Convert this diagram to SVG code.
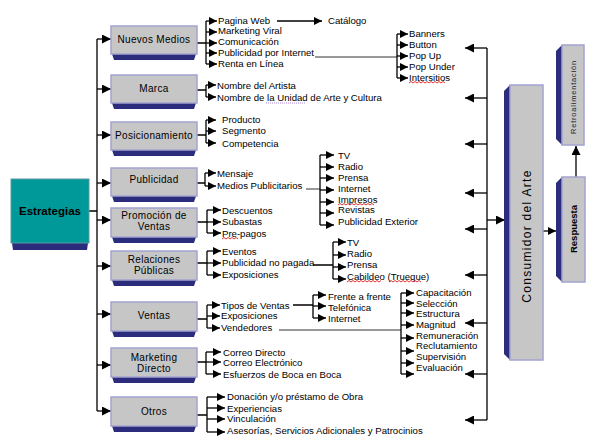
<svg xmlns="http://www.w3.org/2000/svg" width="597" height="446" viewBox="0 0 597 446">
<style>
.box{fill:#c6c6c6;stroke:#a3a3cf;stroke-width:1.5}
.sh{fill:#2c2c7c}
.bl{font-family:"Liberation Sans",Arial,sans-serif;font-size:10px;fill:#000;text-anchor:middle;letter-spacing:0.3px}
.it{font-family:"Liberation Sans",Arial,sans-serif;font-size:9.6px;fill:#000}
.ln{fill:none;stroke:#000;stroke-width:1.3}
.gl{fill:none;stroke:#333;stroke-width:1}
.sq{fill:none;stroke:#e00000;stroke-width:0.8}
</style>
<defs>
<marker id="ah" markerUnits="userSpaceOnUse" markerWidth="10" markerHeight="9" refX="9" refY="4.5" orient="auto"><path d="M0,0 L9,4.5 L0,9 z" fill="#000"/></marker>
<marker id="as" markerUnits="userSpaceOnUse" markerWidth="8" markerHeight="8" refX="8" refY="4" orient="auto"><path d="M0,0 L8,4 L0,8 z" fill="#000"/></marker>
</defs>
<rect width="597" height="446" fill="#fff"/>

<g id="connectors">
<!-- main trunk -->
<path class="ln" d="M89,211 H97 M97,39 V411"/>
<path class="ln" marker-end="url(#ah)" d="M97,39 H111"/>
<path class="ln" marker-end="url(#ah)" d="M97,89 H111"/>
<path class="ln" marker-end="url(#ah)" d="M97,135 H111"/>
<path class="ln" marker-end="url(#ah)" d="M97,183 H111"/>
<path class="ln" marker-end="url(#ah)" d="M97,220 H111"/>
<path class="ln" marker-end="url(#ah)" d="M97,266 H111"/>
<path class="ln" marker-end="url(#ah)" d="M97,314 H111"/>
<path class="ln" marker-end="url(#ah)" d="M97,365 H111"/>
<path class="ln" marker-end="url(#ah)" d="M97,411 H111"/>

<!-- Nuevos Medios -->
<path class="ln" d="M197,43 H206 M206,21 V64"/>
<path class="ln" marker-end="url(#as)" d="M206,21 H217"/>
<path class="ln" marker-end="url(#as)" d="M206,32 H217"/>
<path class="ln" marker-end="url(#as)" d="M206,43 H217"/>
<path class="ln" marker-end="url(#as)" d="M206,53 H217"/>
<path class="ln" marker-end="url(#as)" d="M206,64 H217"/>
<path class="ln" marker-end="url(#as)" d="M277,21 H322"/>
<path class="gl" d="M315,57 H397"/>
<path class="ln" d="M397,34 V78"/>
<path class="ln" marker-end="url(#as)" d="M397,34 H408"/>
<path class="ln" marker-end="url(#as)" d="M397,45 H408"/>
<path class="ln" marker-end="url(#as)" d="M397,56 H408"/>
<path class="ln" marker-end="url(#as)" d="M397,67 H408"/>
<path class="ln" marker-end="url(#as)" d="M397,78 H408"/>

<!-- Marca -->
<path class="ln" d="M197,90 H206 M206,85 V97"/>
<path class="ln" marker-end="url(#as)" d="M206,85 H216"/>
<path class="ln" marker-end="url(#as)" d="M206,97 H216"/>

<!-- Posicionamiento -->
<path class="ln" d="M197,135 H206 M206,120 V143"/>
<path class="ln" marker-end="url(#as)" d="M206,120 H216"/>
<path class="ln" marker-end="url(#as)" d="M206,131 H216"/>
<path class="ln" marker-end="url(#as)" d="M206,143 H216"/>

<!-- Publicidad -->
<path class="ln" d="M197,183 H205 M205,173 V186"/>
<path class="ln" marker-end="url(#as)" d="M205,173 H216"/>
<path class="ln" marker-end="url(#as)" d="M205,186 H216"/>
<path class="gl" d="M306,189 H320"/>
<path class="ln" d="M320,155 V225"/>
<path class="ln" marker-end="url(#as)" d="M320,155 H334"/>
<path class="ln" marker-end="url(#as)" d="M320,167 H334"/>
<path class="ln" marker-end="url(#as)" d="M320,178 H334"/>
<path class="ln" marker-end="url(#as)" d="M320,190 H334"/>
<path class="ln" marker-end="url(#as)" d="M320,202 H334"/>
<path class="ln" marker-end="url(#as)" d="M320,213 H334"/>
<path class="ln" marker-end="url(#as)" d="M320,225 H334"/>

<!-- Promocion -->
<path class="ln" d="M197,222 H207 M207,210 V233"/>
<path class="ln" marker-end="url(#as)" d="M207,210 H221"/>
<path class="ln" marker-end="url(#as)" d="M207,222 H221"/>
<path class="ln" marker-end="url(#as)" d="M207,233 H221"/>

<!-- Relaciones -->
<path class="ln" d="M197,263 H207 M207,251 V275"/>
<path class="ln" marker-end="url(#as)" d="M207,251 H221"/>
<path class="ln" marker-end="url(#as)" d="M207,263 H221"/>
<path class="ln" marker-end="url(#as)" d="M207,275 H221"/>
<path class="ln" d="M313,265 H333 M333,242 V279"/>
<path class="ln" marker-end="url(#as)" d="M333,242 H346"/>
<path class="ln" marker-end="url(#as)" d="M333,255 H346"/>
<path class="ln" marker-end="url(#as)" d="M333,267 H346"/>
<path class="ln" marker-end="url(#as)" d="M333,279 H346"/>

<!-- Ventas -->
<path class="ln" d="M197,319 H207 M207,305 V328"/>
<path class="ln" marker-end="url(#as)" d="M207,305 H220"/>
<path class="ln" marker-end="url(#as)" d="M207,316 H220"/>
<path class="ln" marker-end="url(#as)" d="M207,328 H220"/>
<path class="ln" d="M293,305 H313 M313,295 V318"/>
<path class="ln" marker-end="url(#as)" d="M313,295 H326"/>
<path class="ln" marker-end="url(#as)" d="M313,306 H326"/>
<path class="ln" marker-end="url(#as)" d="M313,318 H326"/>
<path class="gl" d="M279,330 H401"/>
<path class="ln" d="M401,293 V374"/>
<path class="ln" marker-end="url(#as)" d="M401,293 H414"/>
<path class="ln" marker-end="url(#as)" d="M401,303 H414"/>
<path class="ln" marker-end="url(#as)" d="M401,313 H414"/>
<path class="ln" marker-end="url(#as)" d="M401,325 H414"/>
<path class="ln" marker-end="url(#as)" d="M401,338 H414"/>
<path class="ln" marker-end="url(#as)" d="M401,351 H414"/>
<path class="ln" marker-end="url(#as)" d="M401,363 H414"/>
<path class="ln" marker-end="url(#as)" d="M401,374 H414"/>

<!-- Marketing Directo -->
<path class="ln" d="M197,362 H206 M206,352 V374"/>
<path class="ln" marker-end="url(#as)" d="M206,352 H221"/>
<path class="ln" marker-end="url(#as)" d="M206,362 H221"/>
<path class="ln" marker-end="url(#as)" d="M206,374 H221"/>

<!-- Otros -->
<path class="ln" d="M197,415 H207 M207,397 V432"/>
<path class="ln" marker-end="url(#as)" d="M207,397 H225"/>
<path class="ln" marker-end="url(#as)" d="M207,408 H225"/>
<path class="ln" marker-end="url(#as)" d="M207,419 H225"/>
<path class="ln" marker-end="url(#as)" d="M207,432 H225"/>

<!-- right trunk -->
<path class="ln" d="M487,48 V420"/>
<path class="ln" marker-end="url(#ah)" d="M487,48 H465"/>
<path class="ln" marker-end="url(#ah)" d="M487,98 H465"/>
<path class="ln" marker-end="url(#ah)" d="M487,144 H465"/>
<path class="ln" marker-end="url(#ah)" d="M487,193 H465"/>
<path class="ln" marker-end="url(#ah)" d="M487,229 H465"/>
<path class="ln" marker-end="url(#ah)" d="M487,275 H465"/>
<path class="ln" marker-end="url(#ah)" d="M487,323 H465"/>
<path class="ln" marker-end="url(#ah)" d="M487,374 H465"/>
<path class="ln" marker-end="url(#ah)" d="M487,420 H465"/>
<path class="ln" marker-end="url(#ah)" d="M487,220 H505"/>
<path class="ln" marker-end="url(#as)" d="M543,231 H556"/>
<path class="ln" marker-end="url(#ah)" d="M576,177 V146"/>
</g>

<g id="estrategias">
<polygon class="sh" points="12,243 88,243 87,250 13,250"/>
<rect x="11" y="179" width="78" height="64" fill="#009999" stroke="#5a9aa0" stroke-width="1"/>
<text x="50" y="215" font-family="Liberation Sans, Arial, sans-serif" font-size="11.5" font-weight="bold" text-anchor="middle" fill="#000">Estrategias</text>
</g>

<g id="nuevos-medios">
<polygon class="sh" points="112,54 196,54 194,60 114,60"/>
<rect class="box" x="111" y="26" width="86" height="28"/>
<text class="bl" x="154" y="43">Nuevos Medios</text>
</g>
<g id="marca">
<polygon class="sh" points="112,103 196,103 194,109 114,109"/>
<rect class="box" x="111" y="75" width="86" height="28"/>
<text class="bl" x="154" y="92">Marca</text>
</g>
<g id="posicionamiento">
<polygon class="sh" points="112,150 196,150 194,156 114,156"/>
<rect class="box" x="111" y="122" width="86" height="28"/>
<text class="bl" x="154" y="139">Posicionamiento</text>
</g>
<g id="publicidad">
<polygon class="sh" points="112,196 196,196 194,202 114,202"/>
<rect class="box" x="111" y="168" width="86" height="28"/>
<text class="bl" x="154" y="183">Publicidad</text>
</g>
<g id="promocion">
<polygon class="sh" points="112,237 196,237 194,243 114,243"/>
<rect class="box" x="111" y="208" width="86" height="29"/>
<text class="bl" x="154" y="219">Promoción de</text>
<text class="bl" x="154" y="230">Ventas</text>
</g>
<g id="relaciones">
<polygon class="sh" points="112,280 196,280 194,286 114,286"/>
<rect class="box" x="111" y="251" width="86" height="29"/>
<text class="bl" x="154" y="263">Relaciones</text>
<text class="bl" x="154" y="274">Públicas</text>
</g>
<g id="ventas">
<polygon class="sh" points="112,331 196,331 194,337 114,337"/>
<rect class="box" x="111" y="302" width="86" height="29"/>
<text class="bl" x="154" y="319">Ventas</text>
</g>
<g id="marketing-directo">
<polygon class="sh" points="112,377 196,377 194,383 114,383"/>
<rect class="box" x="111" y="348" width="86" height="29"/>
<text class="bl" x="154" y="361">Marketing</text>
<text class="bl" x="154" y="372">Directo</text>
</g>
<g id="otros">
<polygon class="sh" points="112,426 196,426 194,432 114,432"/>
<rect class="box" x="111" y="397" width="86" height="29"/>
<text class="bl" x="154" y="415">Otros</text>
</g>

<g id="items-nuevos-medios">
<text class="it" x="218" y="23.5">Pagina Web</text>
<text class="it" x="218" y="33.5">Marketing Viral</text>
<text class="it" x="218" y="44.5">Comunicación</text>
<text class="it" x="218" y="55.5">Publicidad por Internet</text>
<text class="it" x="218" y="66.5">Renta en Línea</text>
<text class="it" x="328" y="23.5">Catálogo</text>
<text class="it" x="409" y="36.5">Banners</text>
<text class="it" x="409" y="47.5">Button</text>
<text class="it" x="409" y="58.5">Pop Up</text>
<text class="it" x="409" y="69.5">Pop Under</text>
<text class="it" x="409" y="80.5">Intersitios</text>
<path class="sq" d="M409,83 l2,-1.5 l2,1.5 l2,-1.5 l2,1.5 l2,-1.5 l2,1.5 l2,-1.5 l2,1.5 l2,-1.5 l2,1.5 l2,-1.5 l2,1.5 l2,-1.5 l2,1.5 l2,-1.5 l2,1.5 l2,-1.5 l2,1.5"/>
</g>
<g id="items-marca">
<text class="it" x="217" y="88.5">Nombre del Artista</text>
<text class="it" x="217" y="100.5">Nombre de la Unidad de Arte y Cultura</text>
<path d="M266,103 H306" fill="none" stroke="#9966cc" stroke-width="0.8" stroke-dasharray="1,1"/>
</g>
<g id="items-posicionamiento">
<text class="it" x="222" y="122.5">Producto</text>
<text class="it" x="222" y="133.5">Segmento</text>
<text class="it" x="222" y="146.5">Competencia</text>
</g>
<g id="items-publicidad">
<text class="it" x="217" y="176.5">Mensaje</text>
<text class="it" x="217" y="188.5">Medios Publicitarios</text>
<text class="it" x="338" y="158.5">TV</text>
<text class="it" x="338" y="169.5">Radio</text>
<text class="it" x="338" y="180.5">Prensa</text>
<text class="it" x="338" y="191.5">Internet</text>
<text class="it" x="338" y="202.5">Impresos</text>
<text class="it" x="338" y="212.5">Revistas</text>
<text class="it" x="338" y="224.5">Publicidad Exterior</text>
<path class="sq" d="M338,205 l2,-1.5 l2,1.5 l2,-1.5 l2,1.5 l2,-1.5 l2,1.5 l2,-1.5 l2,1.5 l2,-1.5 l2,1.5 l2,-1.5 l2,1.5 l2,-1.5 l2,1.5 l2,-1.5 l2,1.5 l2,-1.5 l2,1.5"/>
</g>
<g id="items-promocion">
<text class="it" x="222" y="213.5">Descuentos</text>
<text class="it" x="222" y="224.5">Subastas</text>
<text class="it" x="222" y="236.5">Pre-pagos</text>
<path class="sq" d="M222,239 l2,-1.5 l2,1.5 l2,-1.5 l2,1.5 l2,-1.5 l2,1.5 l2,-1.5 l2,1.5"/>
</g>
<g id="items-relaciones">
<text class="it" x="222" y="254.5">Eventos</text>
<text class="it" x="222" y="265.5">Publicidad no pagada</text>
<text class="it" x="222" y="277.5">Exposiciones</text>
<text class="it" x="347" y="245.5">TV</text>
<text class="it" x="347" y="256.5">Radio</text>
<text class="it" x="347" y="267.5">Prensa</text>
<text class="it" x="347" y="279.5">Cabildeo (Trueque)</text>
<path class="sq" d="M347,282 l2,-1.5 l2,1.5 l2,-1.5 l2,1.5 l2,-1.5 l2,1.5 l2,-1.5 l2,1.5 l2,-1.5 l2,1.5 l2,-1.5 l2,1.5 l2,-1.5 l2,1.5 l2,-1.5 l2,1.5 l2,-1.5 M389,282 l2,-1.5 l2,1.5 l2,-1.5 l2,1.5 l2,-1.5 l2,1.5 l2,-1.5 l2,1.5 l2,-1.5 l2,1.5 l2,-1.5 l2,1.5 l2,-1.5 l2,1.5 l2,-1.5 l2,1.5"/>
</g>
<g id="items-ventas">
<text class="it" x="221" y="308.5">Tipos de Ventas</text>
<text class="it" x="221" y="318.5">Exposiciones</text>
<text class="it" x="221" y="330.5">Vendedores</text>
<text class="it" x="328" y="299.5">Frente a frente</text>
<text class="it" x="328" y="310.5">Telefónica</text>
<text class="it" x="328" y="321.5">Internet</text>
<text class="it" x="416" y="295.5">Capacitación</text>
<text class="it" x="416" y="306.5">Selección</text>
<text class="it" x="416" y="316.5">Estructura</text>
<text class="it" x="416" y="327.5">Magnitud</text>
<text class="it" x="416" y="338.5">Remuneración</text>
<text class="it" x="416" y="348.5">Reclutamiento</text>
<text class="it" x="416" y="359.5">Supervisión</text>
<text class="it" x="416" y="370.5">Evaluación</text>
</g>
<g id="items-marketing-directo">
<text class="it" x="223" y="355.5">Correo Directo</text>
<text class="it" x="223" y="365.5">Correo Electrónico</text>
<text class="it" x="223" y="377.5">Esfuerzos de Boca en Boca</text>
</g>
<g id="items-otros">
<text class="it" x="227" y="399.5">Donación y/o préstamo de Obra</text>
<text class="it" x="227" y="411.5">Experiencias</text>
<text class="it" x="227" y="421.5">Vinculación</text>
<text class="it" x="227" y="433.5">Asesorías, Servicios Adicionales y Patrocinios</text>
</g>

<g id="consumidor">
<polygon class="sh" points="504,91 510,85 510,360 504,354"/>
<rect class="box" x="510" y="85" width="33" height="275"/>
<text transform="translate(531,236) rotate(-90)" font-family="Liberation Sans, Arial, sans-serif" font-size="12" letter-spacing="1.3" text-anchor="middle" fill="#000">Consumidor del Arte</text>
</g>
<g id="respuesta">
<polygon class="sh" points="556,183 562,177 562,282 556,276"/>
<rect class="box" x="562" y="177" width="23" height="105"/>
<text transform="translate(577,229) rotate(-90)" font-family="Liberation Sans, Arial, sans-serif" font-size="9.5" font-weight="bold" text-anchor="middle" fill="#000">Respuesta</text>
</g>
<g id="retroalimentacion">
<polygon class="sh" points="556,51 562,45 562,145 556,139"/>
<rect class="box" x="562" y="45" width="22" height="100"/>
<text transform="translate(576,97) rotate(-90)" font-family="Liberation Sans, Arial, sans-serif" font-size="7.5" letter-spacing="0.8" text-anchor="middle" fill="#222">Retroalimentación</text>
</g>
</svg>
